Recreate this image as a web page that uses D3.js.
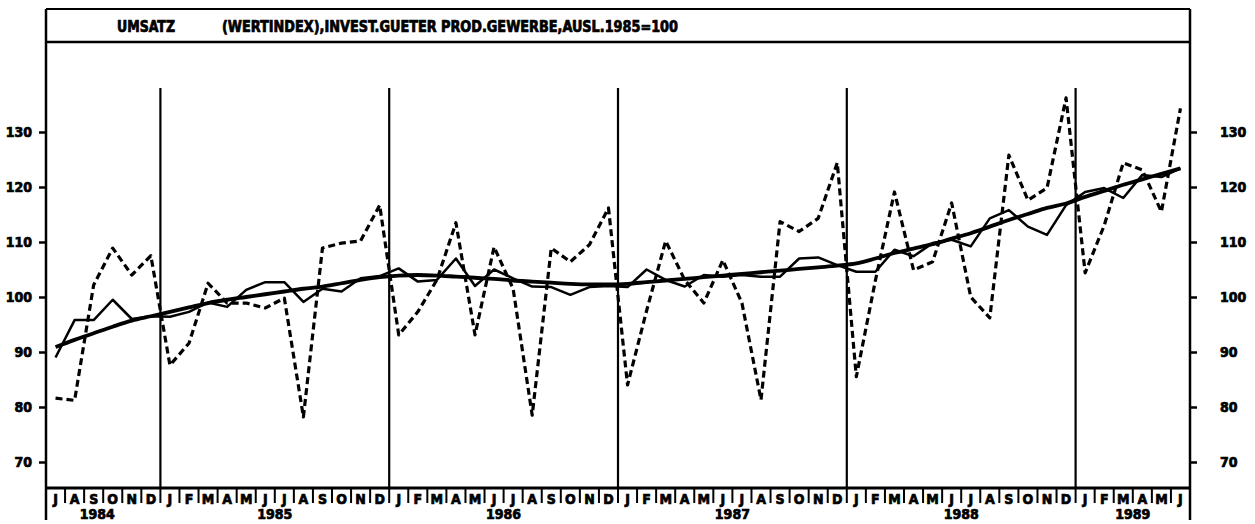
<!DOCTYPE html>
<html>
<head>
<meta charset="utf-8">
<script src="https://cdn.jsdelivr.net/npm/d3@7"></script>
<style>
  html, body { margin: 0; padding: 0; background: #fff; }
  svg text { font-family: "Liberation Sans Narrow", "DejaVu Sans Condensed", "Liberation Sans", sans-serif; font-weight: bold; fill: #000; stroke: #000; stroke-width: 0.7px; }
</style>
</head>
<body>
<svg id="chart" width="1255" height="524"></svg>
<script>
const titleLeft = "UMSATZ";
const titleRight = "(WERTINDEX),INVEST.GUETER PROD.GEWERBE,AUSL.1985=100";
const monthLabels = [
  "J","A","S","O","N","D",
  "J","F","M","A","M","J","J","A","S","O","N","D",
  "J","F","M","A","M","J","J","A","S","O","N","D",
  "J","F","M","A","M","J","J","A","S","O","N","D",
  "J","F","M","A","M","J","J","A","S","O","N","D",
  "J","F","M","A","M","J"
];
const years = ["1984","1985","1986","1987","1988","1989"];
const yearStart = [0, 6, 18, 30, 42, 54];
const yTicks = [70, 80, 90, 100, 110, 120, 130];

const original = [
  81.6, 81.2, 102.2, 108.9, 104.0, 107.5,
  87.6, 91.6, 102.5, 98.9, 98.9, 98.0, 99.8, 78.2, 108.9, 109.8, 110.2, 116.7,
  93.1, 97.3, 103.1, 113.5, 93.1, 109.1, 101.5, 78.5, 108.9, 106.4, 109.5, 116.2,
  84.0, 97.5, 110.2, 103.1, 98.9, 106.7, 98.9, 81.3, 113.7, 111.9, 114.3, 124.4,
  85.5, 103.0, 119.1, 104.9, 106.4, 117.1, 100.0, 96.2, 125.8, 117.6, 119.8, 136.2,
  104.4, 113.0, 124.4, 123.1, 115.5, 134.3
];
const adjusted = [
  89.0, 95.8, 95.8, 99.5, 96.0, 96.5,
  96.4, 97.3, 99.0, 98.2, 101.3, 102.7, 102.7, 99.1, 101.5, 101.0, 103.4, 103.8,
  105.2, 102.8, 103.1, 107.0, 102.0, 105.0, 103.4, 101.9, 101.8, 100.4, 101.8, 102.0,
  101.8, 105.0, 103.1, 101.9, 104.0, 103.7, 104.0, 103.7, 103.7, 107.0, 107.2, 105.8,
  104.6, 104.6, 108.6, 107.4, 109.8, 110.4, 109.2, 114.3, 115.8, 112.8, 111.3, 116.7,
  119.1, 119.8, 118.0, 122.2, 121.8, 123.4
];
const trend = [
  90.9, 92.2, 93.4, 94.6, 95.7, 96.5,
  97.3, 98.1, 98.9, 99.5, 100.0, 100.5, 101.0, 101.5, 101.9, 102.5, 103.1, 103.6,
  103.9, 104.0, 103.9, 103.7, 103.5, 103.3, 103.0, 102.8, 102.6, 102.4, 102.3, 102.3,
  102.4, 102.7, 103.0, 103.3, 103.6, 103.9, 104.2, 104.5, 104.8, 105.1, 105.4, 105.7,
  106.1, 107.0, 108.0, 108.8, 109.6, 110.6, 111.6, 112.8, 114.0, 115.1, 116.2, 117.0,
  118.2, 119.3, 120.4, 121.4, 122.4, 123.4
];

const svg = d3.select("#chart");
const L = 46, R = 1190, TOP = 9, TITLE_B = 42, AXIS_Y = 488, BOTTOM = 520;

const x = d3.scaleBand().domain(d3.range(monthLabels.length)).range([L, R]).paddingInner(0).paddingOuter(0);
const y = d3.scaleLinear().domain([70, 130]).range([462, 132]);
const cx = i => x(i) + x.bandwidth() / 2;

// frame
const frame = svg.append("g").attr("stroke", "#000").attr("fill", "none");
frame.append("line").attr("x1", L).attr("x2", R).attr("y1", TOP).attr("y2", TOP).attr("stroke-width", 2);
frame.append("line").attr("x1", L).attr("x2", R).attr("y1", TITLE_B).attr("y2", TITLE_B).attr("stroke-width", 2.5);
frame.append("line").attr("x1", L).attr("x2", L).attr("y1", TOP).attr("y2", BOTTOM).attr("stroke-width", 2.5);
frame.append("line").attr("x1", R).attr("x2", R).attr("y1", TOP).attr("y2", BOTTOM).attr("stroke-width", 2.5);
frame.append("line").attr("x1", L).attr("x2", R).attr("y1", AXIS_Y).attr("y2", AXIS_Y).attr("stroke-width", 3);

// title
svg.append("text").attr("x", 117).attr("y", 32).attr("font-size", 15)
  .attr("textLength", 58).attr("lengthAdjust", "spacingAndGlyphs").text(titleLeft);
svg.append("text").attr("x", 222).attr("y", 32).attr("font-size", 15)
  .attr("textLength", 456).attr("lengthAdjust", "spacingAndGlyphs").text(titleRight);

// y axes
const axL = svg.append("g").attr("transform", `translate(${L},0)`)
  .call(d3.axisLeft(y).tickValues(yTicks).tickSize(7).tickPadding(7).tickFormat(d3.format("d")));
const axR = svg.append("g").attr("transform", `translate(${R},0)`)
  .call(d3.axisRight(y).tickValues(yTicks).tickSize(7).tickPadding(23).tickFormat(d3.format("d")));
[axL, axR].forEach(a => {
  a.attr("font-family", null).attr("font-size", null);
  a.select(".domain").remove();
  a.selectAll(".tick line").attr("stroke", "#000").attr("stroke-width", 2.5);
  a.selectAll(".tick text").attr("font-size", 14).attr("fill", "#000");
});

// year separators
svg.append("g").selectAll("line").data(yearStart.slice(1)).join("line")
  .attr("x1", d => x(d)).attr("x2", d => x(d))
  .attr("y1", 88).attr("y2", AXIS_Y)
  .attr("stroke", "#000").attr("stroke-width", 2.2);

// month separators and labels
svg.append("g").selectAll("line").data(d3.range(1, monthLabels.length)).join("line")
  .attr("x1", d => x(d)).attr("x2", d => x(d))
  .attr("y1", AXIS_Y).attr("y2", 503)
  .attr("stroke", "#000").attr("stroke-width", 2);
svg.append("g").selectAll("text").data(monthLabels).join("text")
  .attr("x", (d, i) => cx(i)).attr("y", 504).attr("text-anchor", "middle").attr("font-size", 14)
  .text(d => d);
svg.append("g").selectAll("text").data(years).join("text")
  .attr("x", (d, i) => {
    const s = yearStart[i], e = (i + 1 < yearStart.length ? yearStart[i + 1] : monthLabels.length);
    return (x(s) + x(e - 1) + x.bandwidth()) / 2 - (i === 0 ? 6 : 0);
  })
  .attr("y", 519).attr("text-anchor", "middle").attr("font-size", 14)
  .text(d => d);

// series
const line = d3.line().x((d, i) => cx(i)).y(d => y(d));
svg.append("path").datum(original).attr("d", line)
  .attr("fill", "none").attr("stroke", "#000").attr("stroke-width", 3.2)
  .attr("stroke-dasharray", "7,4").attr("stroke-linejoin", "round");
svg.append("path").datum(adjusted).attr("d", line)
  .attr("fill", "none").attr("stroke", "#000").attr("stroke-width", 2.5).attr("stroke-linejoin", "round");
svg.append("path").datum(trend).attr("d", d3.line().x((d, i) => cx(i)).y(d => y(d)).curve(d3.curveMonotoneX))
  .attr("fill", "none").attr("stroke", "#000").attr("stroke-width", 3.8).attr("stroke-linejoin", "round");
</script>
</body>
</html>
